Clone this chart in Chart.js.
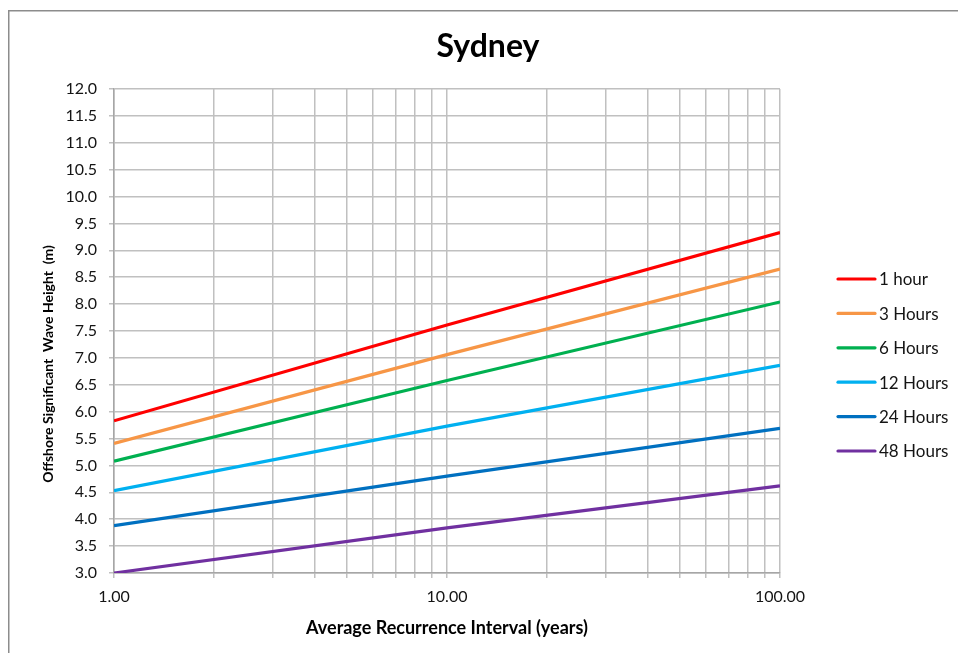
<!DOCTYPE html>
<html>
<head>
<meta charset="utf-8">
<title>Sydney</title>
<script src="https://cdn.jsdelivr.net/npm/chart.js@4/dist/chart.umd.min.js"></script>
<style>
  html, body { margin: 0; padding: 0; background: #ffffff; }
  #wrap { position: relative; width: 958px; height: 653px; }
  canvas { display: block; }
</style>
</head>
<body>
<div id="wrap"><canvas id="c" width="958" height="653"></canvas></div>
<script>
// Average recurrence interval (years)
const ari = [1, 10, 100];

// Offshore significant wave height (m) by storm duration
const h1hour   = [5.83, 7.61, 9.33];
const h3hours  = [5.41, 7.06, 8.65];
const h6hours  = [5.08, 6.58, 8.04];
const h12hours = [4.53, 5.73, 6.86];
const h24hours = [3.88, 4.80, 5.69];
const h48hours = [3.00, 3.84, 4.62];

const seriesNames = ['1 hour', '3 Hours', '6 Hours', '12 Hours', '24 Hours', '48 Hours'];
const seriesColors = ['#ff0000', '#f79646', '#00b050', '#00b0f0', '#0070c0', '#7030a0'];
const seriesValues = [h1hour, h3hours, h6hours, h12hours, h24hours, h48hours];

// x gridlines: 1..10 and 10..100 (log decades)
const xTicks = [1, 2, 3, 4, 5, 6, 7, 8, 9, 10, 20, 30, 40, 50, 60, 70, 80, 90, 100];
const xLabelled = [1, 10, 100];

const yTitle = 'Offshore Significant  Wave Height  (m)';

const FONT = 'Lato, "Open Sans", "DejaVu Sans", sans-serif';
const GRID = '#c0c0c0';
const TEXT = '#141414';

const datasets = seriesNames.map((name, i) => ({
  label: name,
  data: ari.map((x, j) => ({ x: x, y: seriesValues[i][j] })),
  borderColor: seriesColors[i],
  backgroundColor: seriesColors[i],
  borderWidth: 3.2,
  pointRadius: 0,
  tension: 0,
  fill: false
}));

// Outer frame, titles and the legend on the right
const decorations = {
  id: 'decorations',
  beforeDraw(chart) {
    const ctx = chart.ctx;
    ctx.save();
    ctx.strokeStyle = '#8c8c8c';
    ctx.lineWidth = 1.5;
    ctx.beginPath();
    ctx.moveTo(8.75, 653);
    ctx.lineTo(8.75, 10.75);
    ctx.lineTo(958, 10.75);
    ctx.stroke();
    ctx.restore();
  },
  afterDraw(chart) {
    const ctx = chart.ctx;
    ctx.save();
    ctx.fillStyle = '#000000';
    ctx.font = 'bold 32px ' + FONT;
    ctx.textAlign = 'center';
    ctx.textBaseline = 'alphabetic';
    ctx.fillText('Sydney', 488, 57);

    // vertical axis title, sitting slightly below the plot's middle
    ctx.save();
    ctx.translate(48, 364);
    ctx.rotate(-Math.PI / 2);
    ctx.font = 'bold 14px ' + FONT;
    ctx.textAlign = 'center';
    ctx.textBaseline = 'middle';
    ctx.fillText(yTitle, 0, 0);
    ctx.restore();

    ctx.font = '17px ' + FONT;
    ctx.textAlign = 'left';
    ctx.textBaseline = 'middle';
    chart.data.datasets.forEach((ds, i) => {
      const y = 279 + i * 34.4;
      ctx.strokeStyle = ds.borderColor;
      ctx.lineWidth = 3.2;
      ctx.lineCap = 'round';
      ctx.beginPath();
      ctx.moveTo(838, y);
      ctx.lineTo(875, y);
      ctx.stroke();
      ctx.fillStyle = TEXT;
      ctx.fillText(ds.label, 879, y + 1);
    });
    ctx.restore();
  }
};

new Chart(document.getElementById('c'), {
  type: 'line',
  data: { datasets: datasets },
  plugins: [decorations],
  options: {
    responsive: false,
    animation: false,
    devicePixelRatio: 1,
    layout: { padding: { top: 89, right: 178, bottom: 0, left: 0 } },
    plugins: {
      legend: { display: false },
      title: { display: false },
      tooltip: { enabled: false }
    },
    scales: {
      x: {
        type: 'logarithmic',
        min: 1,
        max: 100,
        afterBuildTicks(scale) {
          scale.ticks = xTicks.map(v => ({ value: v }));
        },
        afterFit(scale) { scale.height = 80; },
        grid: {
          color: GRID,
          lineWidth: 1.5,
          drawTicks: true,
          tickLength: 5,
          tickColor: GRID
        },
        border: { color: '#a6a6a6', width: 1.5 },
        ticks: {
          autoSkip: false,
          maxRotation: 0,
          padding: 9,
          color: TEXT,
          font: { family: FONT, size: 16 },
          callback(value) {
            return xLabelled.includes(value) ? Number(value).toFixed(2) : '';
          }
        },
        title: {
          display: true,
          text: 'Average Recurrence Interval (years)',
          color: '#000000',
          font: { family: FONT, size: 18, weight: 'bold' },
          padding: { top: 0, bottom: 14 }
        }
      },
      y: {
        type: 'linear',
        min: 3,
        max: 12,
        afterFit(scale) { scale.width = 114; },
        grid: {
          color: GRID,
          lineWidth: 1.5,
          drawTicks: true,
          tickLength: 5,
          tickColor: GRID
        },
        border: { color: '#a6a6a6', width: 1.5 },
        ticks: {
          stepSize: 0.5,
          padding: 12,
          color: TEXT,
          font: { family: FONT, size: 16 },
          callback(value) { return Number(value).toFixed(1); }
        },
        title: { display: false }
      }
    }
  }
});
</script>
</body>
</html>
